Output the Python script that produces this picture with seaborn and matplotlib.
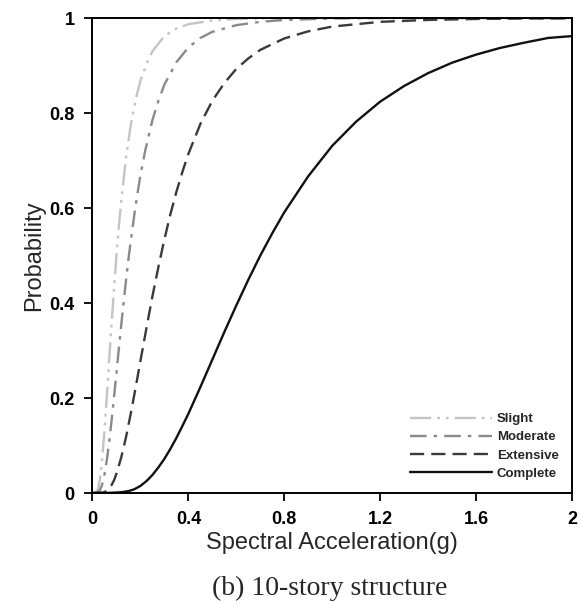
import numpy as np
import pandas as pd
import matplotlib
matplotlib.use("Agg")
import matplotlib.pyplot as plt
import seaborn as sns

# Fragility curves of the 10-story structure: probability of reaching each
# damage state versus spectral acceleration (g).
states = ["Slight", "Moderate", "Extensive", "Complete"]

slight_x = [0, 0.015, 0.02, 0.025, 0.03, 0.035, 0.04, 0.05, 0.06, 0.07, 0.08, 0.09,
            0.10, 0.11, 0.12, 0.14, 0.16, 0.18, 0.20, 0.225, 0.25, 0.30, 0.35,
            0.40, 0.50, 0.60, 0.80, 1.0, 1.5, 2.0]
slight_y = [0, 0.001, 0.005, 0.012, 0.026, 0.045, 0.070, 0.132, 0.205, 0.283,
            0.359, 0.432, 0.500, 0.561, 0.616, 0.706, 0.776, 0.828, 0.868, 0.903,
            0.930, 0.962, 0.978, 0.987, 0.995, 0.998, 1.0, 1.0, 1.0, 1.0]

moderate_x = [0, 0.02, 0.03, 0.04, 0.05, 0.06, 0.07, 0.08, 0.09, 0.10, 0.11, 0.12,
              0.13, 0.14, 0.15, 0.16, 0.18, 0.20, 0.22, 0.25, 0.275, 0.30, 0.35,
              0.40, 0.45, 0.50, 0.60, 0.70, 0.80, 1.0, 1.2, 1.5, 2.0]
moderate_y = [0, 0.001, 0.005, 0.017, 0.039, 0.070, 0.109, 0.154, 0.203, 0.253,
              0.304, 0.354, 0.402, 0.448, 0.492, 0.532, 0.606, 0.669, 0.721, 0.785,
              0.826, 0.860, 0.907, 0.938, 0.958, 0.971, 0.985, 0.992, 0.996, 0.999,
              1.0, 1.0, 1.0]

extensive_x = [0, 0.04, 0.05, 0.06, 0.07, 0.08, 0.09, 0.10, 0.12, 0.14, 0.16, 0.18,
               0.20, 0.225, 0.25, 0.275, 0.30, 0.325, 0.35, 0.375, 0.40, 0.45, 0.50,
               0.55, 0.60, 0.65, 0.70, 0.80, 0.90, 1.0, 1.2, 1.4, 1.6, 1.8, 2.0]
extensive_y = [0, 0.001, 0.002, 0.005, 0.010, 0.017, 0.027, 0.041, 0.075, 0.118,
               0.168, 0.222, 0.278, 0.347, 0.414, 0.476, 0.534, 0.587, 0.634, 0.676,
               0.714, 0.777, 0.826, 0.863, 0.893, 0.915, 0.933, 0.957, 0.972, 0.982,
               0.992, 0.996, 0.998, 0.999, 0.999]

complete_x = [0, 0.05, 0.10, 0.125, 0.15, 0.175, 0.20, 0.225, 0.25, 0.275, 0.30,
              0.325, 0.35, 0.375, 0.40, 0.45, 0.50, 0.55, 0.60, 0.65, 0.70, 0.75,
              0.80, 0.90, 1.0, 1.1, 1.2, 1.3, 1.4, 1.5, 1.6, 1.7, 1.8, 1.9, 2.0]
complete_y = [0, 0, 0.001, 0.002, 0.004, 0.008, 0.015, 0.025, 0.038, 0.054, 0.072,
              0.093, 0.116, 0.141, 0.167, 0.223, 0.281, 0.339, 0.395, 0.449, 0.500,
              0.547, 0.591, 0.667, 0.731, 0.782, 0.824, 0.857, 0.884, 0.906, 0.923,
              0.937, 0.948, 0.958, 0.962]

x_ticks = [0, 0.4, 0.8, 1.2, 1.6, 2.0]
x_tick_labels = ["0", "0.4", "0.8", "1.2", "1.6", "2"]
y_ticks = [0, 0.2, 0.4, 0.6, 0.8, 1.0]
y_tick_labels = ["0", "0.2", "0.4", "0.6", "0.8", "1"]

frames = []
for name, xs, ys in [("Slight", slight_x, slight_y),
                     ("Moderate", moderate_x, moderate_y),
                     ("Extensive", extensive_x, extensive_y),
                     ("Complete", complete_x, complete_y)]:
    frames.append(pd.DataFrame({"Sa": xs, "P": ys, "state": name}))
df = pd.concat(frames, ignore_index=True)

sns.set_style("ticks")
plt.rcParams["font.family"] = ["Liberation Sans", "DejaVu Sans"]

palette = {"Slight": "#c4c4c4", "Moderate": "#8a8a8a",
           "Extensive": "#3a3a3a", "Complete": "#111111"}
dashes = {"Slight": (9, 2.5, 1.2, 2.5, 1.2, 2.5), "Moderate": (7, 3, 1.5, 3),
          "Extensive": (6, 3), "Complete": ""}

fig = plt.figure(figsize=(5.82, 6.05), dpi=100)
ax = fig.add_axes([0.1589, 0.1851, 0.9828 - 0.1589, 0.9702 - 0.1851])

sns.lineplot(data=df, x="Sa", y="P", hue="state", style="state",
             hue_order=states, style_order=states, palette=palette,
             dashes=dashes, estimator=None, sort=False, linewidth=1.7,
             ax=ax, legend=True)

ax.set_xlim(0, 2)
ax.set_ylim(0, 1)
ax.set_xticks(x_ticks)
ax.set_xticklabels(x_tick_labels, fontweight="bold", fontsize=13)
ax.set_yticks(y_ticks)
ax.set_yticklabels(y_tick_labels, fontweight="bold", fontsize=13)
ax.tick_params(direction="out", length=6, width=1.3, colors="black", pad=7)
for side in ["left", "right", "top", "bottom"]:
    ax.spines[side].set_visible(True)
    ax.spines[side].set_linewidth(1.4)
    ax.spines[side].set_color("black")

ax.set_xlabel("Spectral Acceleration(g)", fontsize=17, labelpad=3)
ax.set_ylabel("Probability", fontsize=17, labelpad=3)

handles, labels = ax.get_legend_handles_labels()
leg = ax.legend(handles, labels, loc="lower right", frameon=False,
                handlelength=6.2, handletextpad=0.4, labelspacing=0.45,
                borderaxespad=0.6,
                prop={"weight": "bold", "size": 9.5})

fig.text(0.567, 0.028, "(b) 10-story structure", ha="center", va="center",
         fontsize=20, family=["Liberation Serif", "DejaVu Serif"])

fig.savefig("out.png", dpi=100)
